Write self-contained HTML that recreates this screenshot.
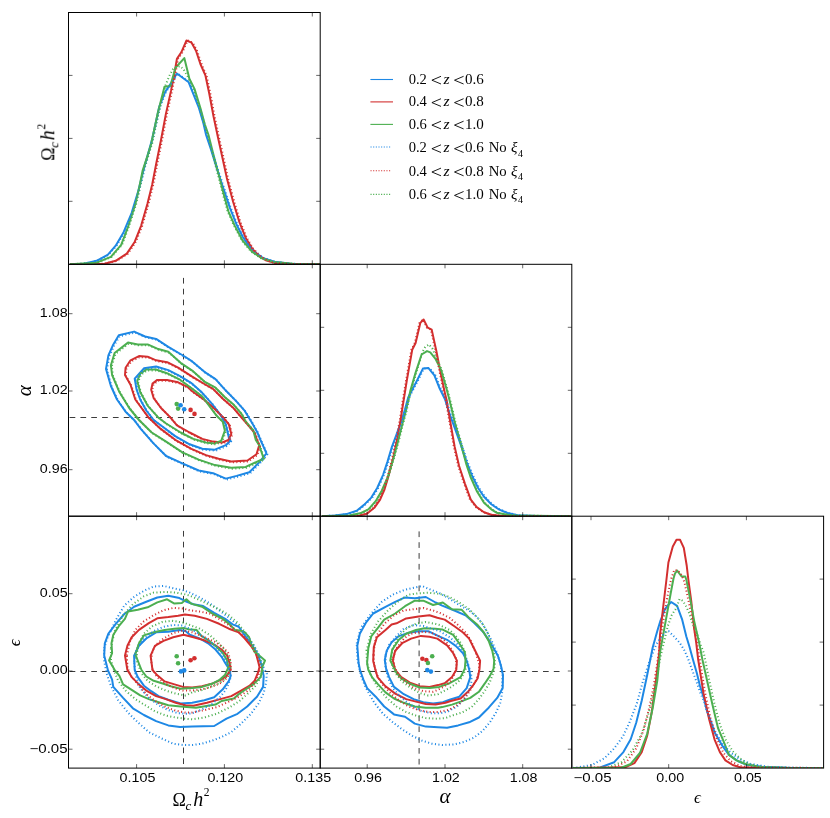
<!DOCTYPE html>
<html><head><meta charset="utf-8"><title>Corner plot</title>
<style>html,body{margin:0;padding:0;background:#fff;}svg{display:block;}</style></head>
<body>
<svg width="830" height="818" viewBox="0 0 830 818">
<rect width="830" height="818" fill="#fff"/>
<defs>
<clipPath id="c00"><rect x="68.5" y="12.5" width="251.7" height="251.8"/></clipPath>
<clipPath id="c01"><rect x="68.5" y="264.3" width="251.7" height="251.9"/></clipPath>
<clipPath id="c02"><rect x="68.5" y="516.2" width="251.7" height="251.9"/></clipPath>
<clipPath id="c10"><rect x="320.2" y="12.5" width="251.6" height="251.8"/></clipPath>
<clipPath id="c11"><rect x="320.2" y="264.3" width="251.6" height="251.9"/></clipPath>
<clipPath id="c12"><rect x="320.2" y="516.2" width="251.6" height="251.9"/></clipPath>
<clipPath id="c20"><rect x="571.8" y="12.5" width="251.8" height="251.8"/></clipPath>
<clipPath id="c21"><rect x="571.8" y="264.3" width="251.8" height="251.9"/></clipPath>
<clipPath id="c22"><rect x="571.8" y="516.2" width="251.8" height="251.9"/></clipPath>
</defs>
<g clip-path="url(#c00)">
<path d="M70.0 264.2 L83.9 263.7 L96.6 260.8 L107.7 254.8 L115.7 245.7 L123.6 232.2 L131.6 213.1 L137.9 192.4 L144.3 167.0 L150.6 144.8 L152.4 138.0 L159.3 106.5 L165.2 91.9 L171.1 83.1 L176.9 73.5 L188.7 82.3 L193.1 93.3 L198.9 108.0 L203.3 122.7 L206.1 135.0 L210.9 149.3 L217.3 170.0 L223.6 189.0 L230.0 208.1 L236.3 224.0 L242.7 236.7 L249.0 246.3 L255.4 252.6 L263.3 258.2 L274.5 261.8 L290.4 263.7 L306.0 264.2 L320.0 264.3" stroke="#1E88E5" fill="none" stroke-width="2" stroke-linejoin="round" stroke-linecap="butt"/>
<path d="M70.0 264.3 L104.6 263.7 L115.7 260.8 L126.8 253.6 L134.8 241.7 L141.1 225.8 L147.5 203.6 L152.2 184.5 L156.2 163.8 L161.0 140.0 L165.9 113.9 L171.1 90.4 L174.0 75.7 L176.9 58.9 L181.3 52.3 L186.5 40.5 L191.6 42.7 L196.0 50.8 L200.4 64.0 L205.5 75.7 L209.2 93.3 L213.6 116.8 L218.0 137.5 L222.0 155.7 L226.8 177.9 L233.1 201.8 L239.5 222.4 L245.9 238.3 L252.2 248.6 L258.6 255.8 L266.5 260.6 L274.5 262.9 L290.4 264.0 L320.0 264.3" stroke="#D32F2F" fill="none" stroke-width="2" stroke-linejoin="round" stroke-linecap="butt"/>
<path d="M70.0 264.3 L96.6 262.7 L110.9 256.8 L121.2 244.9 L128.4 225.8 L135.5 203.6 L139.5 186.1 L142.7 170.2 L147.5 155.9 L151.4 143.2 L152.2 139.0 L157.9 112.4 L164.5 86.7 L170.3 86.0 L175.5 67.7 L184.3 58.1 L189.4 78.7 L194.5 88.9 L200.4 108.0 L204.8 124.2 L208.5 135.0 L212.5 150.9 L218.8 174.7 L223.6 193.8 L228.4 211.3 L234.7 225.6 L242.7 240.7 L252.2 251.8 L261.8 258.2 L274.5 262.1 L295.0 264.0 L320.0 264.3" stroke="#4CAF50" fill="none" stroke-width="2" stroke-linejoin="round" stroke-linecap="butt"/>
<path d="M70.0 264.2 L83.9 263.7 L97.4 260.8 L108.5 254.8 L116.5 245.7 L124.4 232.2 L132.4 213.1 L138.7 192.4 L145.1 167.0 L151.4 144.8 L153.2 138.0 L160.1 106.5 L166.0 91.9 L171.9 83.1 L177.7 73.5 L189.5 82.3 L193.9 93.3 L199.7 108.0 L204.1 122.7 L206.9 135.0 L211.7 149.3 L218.1 170.0 L224.4 189.0 L230.8 208.1 L237.1 224.0 L243.5 236.7 L249.8 246.3 L256.2 252.6 L264.1 258.2 L275.3 261.8 L290.4 263.7 L306.0 264.2 L320.0 264.3" stroke="#1E88E5" fill="none" stroke-width="2" stroke-dasharray="1.05 2.45" stroke-linejoin="round"/>
<path d="M70.0 264.3 L104.6 263.7 L116.8 260.8 L127.9 253.6 L135.9 241.7 L142.2 225.8 L148.6 203.6 L153.3 184.5 L157.3 163.8 L162.1 140.0 L167.0 113.9 L172.2 90.4 L175.1 75.7 L178.0 58.9 L182.4 52.3 L187.6 40.5 L192.7 42.7 L197.1 50.8 L201.5 64.0 L206.6 75.7 L210.3 93.3 L214.7 116.8 L219.1 137.5 L223.1 155.7 L227.9 177.9 L234.2 201.8 L240.6 222.4 L247.0 238.3 L253.3 248.6 L259.7 255.8 L267.6 260.6 L274.5 262.9 L290.4 264.0 L320.0 264.3" stroke="#D32F2F" fill="none" stroke-width="2" stroke-dasharray="1.05 2.45" stroke-linejoin="round"/>
<path d="M70.0 264.3 L97.4 262.7 L111.7 256.8 L122.0 244.9 L129.2 225.8 L136.3 203.6 L140.3 186.1 L143.5 170.2 L148.3 155.9 L152.2 143.2 L153.0 139.0 L158.7 112.4 L165.3 86.0 L169.3 76.0 L173.3 68.4 L179.9 66.1 L183.5 69.1 L189.0 79.0 L193.7 88.9 L199.6 108.0 L204.0 124.2 L207.7 135.0 L211.7 150.9 L218.0 174.7 L222.8 193.8 L227.6 211.3 L233.9 225.6 L241.9 240.7 L251.4 251.8 L261.0 258.2 L273.7 262.1 L295.0 264.0 L320.0 264.3" stroke="#4CAF50" fill="none" stroke-width="2" stroke-dasharray="1.05 2.45" stroke-linejoin="round"/>
</g>
<g clip-path="url(#c11)">
<path d="M322.0 516.2 L334.7 515.6 L346.4 514.1 L356.7 510.8 L364.0 504.9 L371.3 497.6 L377.2 488.0 L383.1 474.8 L387.5 461.6 L391.9 446.9 L396.3 435.2 L402.1 419.1 L404.8 410.0 L408.2 397.5 L416.9 380.7 L422.9 368.6 L428.3 367.9 L434.4 375.3 L439.8 388.8 L445.1 399.5 L448.8 411.7 L454.7 427.9 L460.5 444.0 L466.4 461.6 L472.3 476.3 L478.1 488.0 L484.0 496.8 L491.3 504.2 L498.7 509.3 L507.5 513.0 L517.7 515.2 L535.4 515.9 L571.0 516.2" stroke="#1E88E5" fill="none" stroke-width="2" stroke-linejoin="round" stroke-linecap="butt"/>
<path d="M322.0 516.2 L358.1 515.9 L366.9 513.7 L374.3 507.8 L380.1 499.7 L384.5 489.5 L388.9 474.8 L393.3 457.2 L397.7 436.7 L400.7 419.1 L402.1 410.0 L406.8 380.7 L412.2 349.8 L415.6 343.0 L420.3 322.9 L423.6 319.5 L427.7 327.6 L431.7 329.6 L436.4 351.1 L441.1 375.3 L445.1 394.1 L446.6 400.0 L450.3 422.0 L454.7 446.9 L459.1 466.0 L464.9 483.6 L470.8 499.7 L476.7 507.1 L484.0 512.2 L491.3 514.7 L501.6 515.9 L571.0 516.2" stroke="#D32F2F" fill="none" stroke-width="2" stroke-linejoin="round" stroke-linecap="butt"/>
<path d="M322.0 516.2 L349.3 515.6 L361.1 513.0 L368.4 509.3 L375.7 501.2 L381.6 490.9 L387.5 477.7 L393.3 458.7 L397.7 442.5 L402.1 424.9 L406.1 410.0 L410.2 391.4 L415.6 372.6 L421.6 354.5 L427.0 351.1 L430.3 352.4 L435.7 359.2 L441.1 369.9 L446.5 388.8 L449.5 400.0 L454.7 422.0 L460.5 442.5 L466.4 464.5 L470.8 477.7 L476.7 490.9 L484.0 502.7 L491.3 509.3 L496.5 512.7 L506.0 514.4 L516.3 515.6 L571.0 516.2" stroke="#4CAF50" fill="none" stroke-width="2" stroke-linejoin="round" stroke-linecap="butt"/>
<path d="M322.0 516.2 L334.7 515.6 L347.4 514.1 L357.7 510.8 L365.0 504.9 L372.3 497.6 L378.2 488.0 L384.1 474.8 L388.5 461.6 L392.9 446.9 L397.3 435.2 L403.1 419.1 L405.8 410.0 L409.2 397.5 L417.9 380.7 L423.9 368.6 L429.3 367.9 L435.4 375.3 L440.8 388.8 L446.1 399.5 L449.8 411.7 L455.7 427.9 L461.5 444.0 L467.4 461.6 L473.3 476.3 L479.1 488.0 L485.0 496.8 L492.3 504.2 L499.7 509.3 L508.5 513.0 L517.7 515.2 L535.4 515.9 L571.0 516.2" stroke="#1E88E5" fill="none" stroke-width="2" stroke-dasharray="1.05 2.45" stroke-linejoin="round"/>
<path d="M322.0 516.2 L358.1 515.9 L366.1 513.7 L373.5 507.8 L379.3 499.7 L383.7 489.5 L388.1 474.8 L392.5 457.2 L396.9 436.7 L399.9 419.1 L401.3 410.0 L406.0 380.7 L411.4 349.8 L414.8 343.0 L419.5 322.9 L422.8 319.5 L426.9 327.6 L430.9 329.6 L435.6 351.1 L440.3 375.3 L444.3 394.1 L445.8 400.0 L449.5 422.0 L453.9 446.9 L458.3 466.0 L464.1 483.6 L470.0 499.7 L475.9 507.1 L483.2 512.2 L491.3 514.7 L501.6 515.9 L571.0 516.2" stroke="#D32F2F" fill="none" stroke-width="2" stroke-dasharray="1.05 2.45" stroke-linejoin="round"/>
<path d="M322.0 516.2 L349.3 515.6 L361.8 513.0 L369.1 509.3 L376.4 501.2 L382.3 490.9 L388.2 477.7 L394.0 458.7 L398.4 442.5 L402.8 424.9 L406.8 410.0 L410.9 391.4 L416.3 372.6 L420.2 360.0 L422.2 352.5 L425.2 347.0 L429.0 344.4 L432.7 349.0 L436.7 359.0 L440.2 366.0 L441.8 369.9 L447.2 388.8 L450.2 400.0 L455.4 422.0 L461.2 442.5 L467.1 464.5 L471.5 477.7 L477.4 490.9 L484.7 502.7 L492.0 509.3 L497.2 512.7 L506.7 514.4 L516.3 515.6 L571.0 516.2" stroke="#4CAF50" fill="none" stroke-width="2" stroke-dasharray="1.05 2.45" stroke-linejoin="round"/>
</g>
<g clip-path="url(#c22)">
<path d="M573.0 768.0 L599.5 767.7 L614.2 762.2 L623.4 752.1 L630.7 739.3 L636.2 722.8 L641.7 700.7 L647.2 675.0 L652.7 647.5 L657.3 631.0 L660.5 620.5 L664.9 609.3 L668.0 605.2 L671.2 602.0 L677.1 605.9 L682.0 619.1 L686.4 636.7 L689.4 646.5 L692.8 659.0 L696.8 673.0 L700.0 686.0 L704.1 699.0 L707.0 711.0 L712.0 724.5 L714.4 731.9 L721.7 744.8 L729.0 754.9 L738.2 761.3 L747.4 765.0 L762.1 766.8 L790.0 768.0 L823.0 768.1" stroke="#1E88E5" fill="none" stroke-width="2" stroke-linejoin="round" stroke-linecap="butt"/>
<path d="M573.0 768.1 L625.2 767.3 L634.4 763.1 L641.7 752.1 L647.2 735.6 L651.8 711.7 L655.5 684.2 L659.2 653.0 L660.0 634.8 L662.9 609.3 L666.4 580.0 L668.4 562.5 L672.8 546.4 L676.5 539.8 L680.1 539.8 L683.8 547.9 L686.7 565.5 L688.4 580.0 L691.3 601.5 L694.2 628.9 L696.2 642.6 L698.1 659.0 L703.5 693.4 L709.2 719.5 L714.5 739.3 L719.9 752.1 L725.4 760.4 L732.7 765.0 L740.0 767.2 L760.0 768.0 L823.0 768.1" stroke="#D32F2F" fill="none" stroke-width="2" stroke-linejoin="round" stroke-linecap="butt"/>
<path d="M573.0 768.1 L621.5 767.7 L630.7 764.0 L639.9 753.0 L647.2 733.8 L652.7 708.1 L657.3 680.6 L660.0 652.4 L663.9 630.9 L667.8 609.3 L670.8 592.7 L673.5 578.5 L675.0 573.5 L677.2 570.6 L681.6 576.5 L685.3 576.5 L686.4 580.0 L690.3 599.6 L694.2 621.1 L699.1 642.6 L702.5 660.0 L706.5 678.0 L712.3 704.0 L718.0 728.0 L723.5 741.1 L729.0 754.9 L736.4 760.4 L745.6 764.0 L758.4 766.8 L790.0 768.0 L823.0 768.1" stroke="#4CAF50" fill="none" stroke-width="2" stroke-linejoin="round" stroke-linecap="butt"/>
<path d="M573.0 767.9 L575.7 767.7 L592.0 765.0 L604.7 758.0 L614.2 748.4 L623.0 736.3 L629.5 722.5 L636.9 703.3 L642.6 682.4 L649.1 662.2 L656.4 644.0 L660.0 638.7 L665.9 631.8 L668.8 631.3 L673.7 636.2 L679.6 642.6 L684.4 650.4 L687.9 658.2 L692.3 670.4 L697.0 683.0 L700.0 692.0 L704.1 702.0 L707.0 711.5 L714.4 730.1 L721.7 742.9 L730.9 753.0 L740.0 759.4 L751.1 764.0 L767.6 766.8 L795.0 767.7 L823.0 768.1" stroke="#1E88E5" fill="none" stroke-width="2" stroke-dasharray="1.05 2.45" stroke-linejoin="round"/>
<path d="M573.0 768.1 L614.2 767.3 L627.0 761.3 L636.2 748.4 L643.6 730.1 L649.1 708.1 L653.7 686.1 L658.2 656.7 L660.5 638.7 L663.9 617.2 L666.8 599.6 L669.8 584.9 L671.5 578.0 L674.3 569.9 L677.9 570.6 L681.6 575.0 L684.4 582.0 L687.4 595.6 L690.3 609.3 L693.3 624.0 L696.2 638.7 L699.1 655.3 L705.2 693.4 L710.7 719.1 L717.1 739.3 L723.5 753.0 L730.9 761.3 L740.0 765.9 L749.2 767.3 L823.0 768.1" stroke="#D32F2F" fill="none" stroke-width="2" stroke-dasharray="1.05 2.45" stroke-linejoin="round"/>
<path d="M573.0 768.1 L608.7 767.3 L621.5 762.2 L632.6 750.3 L641.7 733.8 L649.1 711.7 L654.6 687.9 L658.5 668.0 L661.0 654.3 L663.9 642.6 L667.8 626.0 L671.7 615.2 L676.1 608.4 L679.6 599.1 L683.0 601.0 L686.4 606.9 L689.3 613.3 L691.3 620.1 L693.7 626.0 L696.8 633.0 L700.8 645.0 L703.8 653.0 L708.9 678.6 L714.4 703.4 L719.9 724.6 L725.4 739.3 L732.7 751.2 L740.0 758.5 L749.2 764.0 L762.1 766.8 L790.0 768.0 L823.0 768.1" stroke="#4CAF50" fill="none" stroke-width="2" stroke-dasharray="1.05 2.45" stroke-linejoin="round"/>
</g>
<g clip-path="url(#c01)">
<path d="M69.6 417.5 H320.0" stroke="#3c3c3c" stroke-width="1" stroke-dasharray="5.7 5.13" fill="none"/>
<path d="M183.5 277.9 V516.0" stroke="#3c3c3c" stroke-width="1" stroke-dasharray="5.7 5.13" fill="none"/>
<path d="M134.1 420.0 L125.6 411.7 L117.0 399.5 L110.9 386.0 L106.0 368.9 L108.4 355.5 L113.3 344.4 L118.8 335.3 L134.1 331.6 L145.1 336.5 L156.1 338.9 L168.3 346.9 L183.0 355.5 L192.2 361.4 L204.4 371.8 L215.5 379.1 L226.5 391.3 L236.2 401.1 L244.8 410.9 L252.1 423.1 L257.0 431.7 L260.5 440.0 L266.5 453.3 L258.3 463.3 L249.3 472.3 L236.6 475.9 L225.8 478.6 L213.1 473.2 L198.7 470.5 L182.4 463.3 L166.1 456.0 L153.5 443.4 L140.8 428.9 Z" stroke="#1E88E5" fill="none" stroke-width="2" stroke-linejoin="round" stroke-linecap="butt"/>
<path d="M153.7 420.0 L146.3 410.5 L140.2 399.5 L136.6 389.7 L134.7 378.7 L143.9 368.3 L156.1 366.5 L168.3 370.1 L180.0 376.1 L191.0 382.8 L202.0 392.6 L211.8 403.6 L220.3 414.6 L225.8 424.4 L228.9 437.8 L230.3 440.7 L225.8 445.2 L214.9 449.7 L202.3 448.8 L189.6 444.3 L175.2 436.1 L160.7 425.3 Z" stroke="#1E88E5" fill="none" stroke-width="2" stroke-linejoin="round" stroke-linecap="butt"/>
<path d="M148.8 417.8 L135.3 399.5 L130.5 384.8 L125.0 375.0 L125.6 367.7 L130.5 360.3 L139.0 356.1 L147.6 356.7 L156.1 360.3 L167.1 362.2 L178.1 367.7 L192.2 376.7 L204.4 384.0 L213.0 388.9 L222.8 398.7 L232.6 407.2 L241.1 417.0 L248.5 425.6 L254.6 432.9 L257.0 440.0 L259.2 445.2 L256.5 454.2 L247.5 460.5 L231.2 461.5 L218.6 458.7 L205.9 455.1 L191.4 448.8 L175.2 439.8 L160.7 428.9 Z" stroke="#D32F2F" fill="none" stroke-width="2" stroke-linejoin="round" stroke-linecap="butt"/>
<path d="M169.6 416.6 L161.0 408.0 L153.7 398.2 L151.2 389.7 L152.5 383.6 L157.3 379.9 L167.1 379.9 L178.1 382.3 L187.9 387.2 L192.2 391.3 L204.4 399.9 L214.2 408.5 L222.8 417.0 L228.9 424.4 L231.3 434.1 L228.5 439.8 L222.2 442.5 L213.1 441.6 L202.3 438.9 L189.6 432.5 L177.0 425.3 Z" stroke="#D32F2F" fill="none" stroke-width="2" stroke-linejoin="round" stroke-linecap="butt"/>
<path d="M139.0 420.0 L129.2 408.0 L119.4 392.1 L112.1 375.0 L110.9 365.2 L114.6 353.0 L128.0 342.6 L137.8 344.4 L147.6 344.4 L157.3 348.7 L168.3 351.8 L180.6 362.8 L192.2 370.6 L204.4 381.6 L215.5 387.7 L225.2 397.5 L233.8 404.8 L241.1 413.3 L246.0 421.9 L253.3 430.5 L255.8 440.0 L259.2 445.2 L263.7 458.7 L245.7 466.9 L231.2 467.8 L214.9 465.1 L198.7 459.6 L182.4 452.4 L166.1 441.6 L151.7 432.5 Z" stroke="#4CAF50" fill="none" stroke-width="2" stroke-linejoin="round" stroke-linecap="butt"/>
<path d="M158.6 417.8 L147.6 405.6 L140.2 392.1 L137.2 381.1 L140.2 373.8 L146.3 369.5 L156.1 369.5 L168.3 373.8 L180.0 379.7 L191.0 387.7 L202.0 396.2 L209.3 406.0 L216.7 415.8 L222.8 421.9 L224.9 430.7 L221.3 440.7 L214.9 443.4 L205.9 442.5 L193.3 438.9 L180.6 432.5 L166.1 423.5 Z" stroke="#4CAF50" fill="none" stroke-width="2" stroke-linejoin="round" stroke-linecap="butt"/>
<path d="M135.0 420.9 L126.5 412.6 L117.9 400.4 L111.8 386.9 L106.9 369.8 L109.3 356.4 L114.2 345.3 L119.7 336.2 L135.0 332.5 L146.0 337.4 L157.0 339.8 L169.2 347.8 L183.9 356.4 L193.1 362.3 L205.3 372.7 L216.4 380.0 L227.4 392.2 L237.1 402.0 L245.7 411.8 L253.0 424.0 L257.9 432.6 L261.4 440.9 L267.4 454.2 L259.2 464.2 L250.2 473.2 L237.5 476.8 L226.7 479.5 L214.0 474.1 L199.6 471.4 L183.3 464.2 L167.0 456.9 L154.4 444.3 L141.7 429.8 Z" stroke="#1E88E5" fill="none" stroke-width="2" stroke-dasharray="1.05 2.45" stroke-linejoin="round"/>
<path d="M154.6 420.9 L147.2 411.4 L141.1 400.4 L137.5 390.6 L135.6 379.6 L144.8 369.2 L157.0 367.4 L169.2 371.0 L180.9 377.0 L191.9 383.7 L202.9 393.5 L212.7 404.5 L221.2 415.5 L226.7 425.3 L229.8 438.7 L231.2 441.6 L226.7 446.1 L215.8 450.6 L203.2 449.7 L190.5 445.2 L176.1 437.0 L161.6 426.2 Z" stroke="#1E88E5" fill="none" stroke-width="2" stroke-dasharray="1.05 2.45" stroke-linejoin="round"/>
<path d="M149.7 418.7 L136.2 400.4 L131.4 385.7 L125.9 375.9 L126.5 368.6 L131.4 361.2 L139.9 357.0 L148.5 357.6 L157.0 361.2 L168.0 363.1 L179.0 368.6 L193.1 377.6 L205.3 384.9 L213.9 389.8 L223.7 399.6 L233.5 408.1 L242.0 417.9 L249.4 426.5 L255.5 433.8 L257.9 440.9 L260.1 446.1 L257.4 455.1 L248.4 461.4 L232.1 462.4 L219.5 459.6 L206.8 456.0 L192.3 449.7 L176.1 440.7 L161.6 429.8 Z" stroke="#D32F2F" fill="none" stroke-width="2" stroke-dasharray="1.05 2.45" stroke-linejoin="round"/>
<path d="M170.5 417.5 L161.9 408.9 L154.6 399.1 L152.1 390.6 L153.4 384.5 L158.2 380.8 L168.0 380.8 L179.0 383.2 L188.8 388.1 L193.1 392.2 L205.3 400.8 L215.1 409.4 L223.7 417.9 L229.8 425.3 L232.2 435.0 L229.4 440.7 L223.1 443.4 L214.0 442.5 L203.2 439.8 L190.5 433.4 L177.9 426.2 Z" stroke="#D32F2F" fill="none" stroke-width="2" stroke-dasharray="1.05 2.45" stroke-linejoin="round"/>
<path d="M139.9 420.9 L130.1 408.9 L120.3 393.0 L113.0 375.9 L111.8 366.1 L115.5 353.9 L128.9 343.5 L138.7 345.3 L148.5 345.3 L158.2 349.6 L169.2 352.7 L181.5 363.7 L193.1 371.5 L205.3 382.5 L216.4 388.6 L226.1 398.4 L234.7 405.7 L242.0 414.2 L246.9 422.8 L254.2 431.4 L256.7 440.9 L260.1 446.1 L264.6 459.6 L246.6 467.8 L232.1 468.7 L215.8 466.0 L199.6 460.5 L183.3 453.3 L167.0 442.5 L152.6 433.4 Z" stroke="#4CAF50" fill="none" stroke-width="2" stroke-dasharray="1.05 2.45" stroke-linejoin="round"/>
<path d="M159.5 418.7 L148.5 406.5 L141.1 393.0 L138.1 382.0 L141.1 374.7 L147.2 370.4 L157.0 370.4 L169.2 374.7 L180.9 380.6 L191.9 388.6 L202.9 397.1 L210.2 406.9 L217.6 416.7 L223.7 422.8 L225.8 431.6 L222.2 441.6 L215.8 444.3 L206.8 443.4 L194.2 439.8 L181.5 433.4 L167.0 424.4 Z" stroke="#4CAF50" fill="none" stroke-width="2" stroke-dasharray="1.05 2.45" stroke-linejoin="round"/>
</g>
<g clip-path="url(#c02)">
<path d="M69.6 671.5 H320.0" stroke="#3c3c3c" stroke-width="1" stroke-dasharray="5.7 5.13" fill="none"/>
<path d="M183.5 530.9 V768.0" stroke="#3c3c3c" stroke-width="1" stroke-dasharray="5.7 5.13" fill="none"/>
<path d="M104.2 655.6 L104.8 643.3 L108.4 633.6 L115.8 623.8 L124.3 614.0 L134.1 606.7 L146.3 601.8 L157.3 597.5 L168.3 595.7 L179.4 598.1 L185.5 601.2 L193.4 604.2 L203.2 606.1 L214.2 612.8 L225.2 618.9 L232.6 624.4 L238.7 626.8 L246.0 637.2 L253.3 647.0 L258.2 655.6 L261.3 664.1 L263.7 675.9 L263.1 686.9 L257.0 696.7 L247.2 706.5 L237.5 713.8 L226.5 718.7 L214.2 726.0 L192.2 726.6 L180.0 727.0 L168.3 725.4 L156.1 721.1 L143.9 715.0 L132.9 708.3 L123.1 697.9 L113.3 686.9 L112.1 679.6 L108.0 670.5 Z" stroke="#1E88E5" fill="none" stroke-width="2" stroke-linejoin="round" stroke-linecap="butt"/>
<path d="M134.7 670.0 L134.1 655.6 L139.0 645.8 L146.3 638.5 L156.1 632.3 L168.3 631.7 L179.4 629.9 L185.5 631.1 L189.8 634.8 L199.6 638.5 L208.1 643.3 L215.5 649.5 L221.6 656.8 L225.2 662.9 L229.5 669.8 L230.7 675.9 L228.9 680.8 L222.8 689.3 L214.2 697.3 L204.4 700.3 L192.2 702.8 L180.6 703.4 L168.3 699.7 L158.6 696.1 L151.2 691.2 L143.9 685.7 L137.8 677.1 Z" stroke="#1E88E5" fill="none" stroke-width="2" stroke-linejoin="round" stroke-linecap="butt"/>
<path d="M127.4 670.0 L125.0 655.6 L127.4 645.8 L131.7 637.2 L139.0 629.9 L148.8 623.2 L157.3 618.3 L168.3 617.1 L178.1 615.8 L184.9 614.6 L194.7 615.8 L206.9 618.9 L219.1 623.8 L228.9 628.7 L238.7 632.3 L244.8 638.5 L250.9 645.8 L255.8 653.1 L258.2 661.7 L259.5 667.0 L258.2 672.2 L254.6 680.8 L249.7 685.7 L241.1 690.6 L231.3 696.1 L220.3 699.1 L206.9 702.8 L193.4 705.8 L185.5 705.2 L175.7 702.8 L165.9 699.1 L156.1 696.1 L146.3 690.6 L139.0 684.4 L131.7 677.1 Z" stroke="#D32F2F" fill="none" stroke-width="2" stroke-linejoin="round" stroke-linecap="butt"/>
<path d="M152.5 670.0 L150.6 655.6 L154.9 645.8 L163.5 640.9 L173.2 637.2 L183.6 634.8 L193.4 637.2 L204.4 640.3 L214.2 644.6 L221.6 649.5 L227.1 655.6 L229.5 662.9 L230.7 669.8 L226.5 675.9 L220.3 680.2 L211.8 683.8 L202.0 686.3 L192.2 687.5 L183.0 686.9 L174.5 684.4 L164.7 681.4 L157.3 675.3 Z" stroke="#D32F2F" fill="none" stroke-width="2" stroke-linejoin="round" stroke-linecap="butt"/>
<path d="M109.1 660.5 L112.1 653.1 L111.5 643.3 L113.3 634.8 L118.8 626.2 L124.9 618.9 L128.0 611.6 L137.8 609.7 L147.6 607.3 L157.3 602.4 L167.1 599.3 L174.4 603.6 L181.8 603.0 L186.4 599.3 L191.0 603.6 L202.0 606.7 L213.0 614.0 L222.8 618.9 L228.9 623.8 L235.0 629.9 L239.9 630.5 L244.8 632.3 L249.1 637.2 L250.9 643.3 L254.6 651.9 L260.7 656.8 L265.0 660.5 L261.9 667.8 L261.9 671.0 L260.7 677.1 L253.3 684.4 L244.8 690.0 L238.7 694.2 L233.8 698.5 L221.6 701.0 L215.5 704.6 L195.9 707.7 L180.6 706.4 L168.3 705.2 L158.6 702.2 L148.8 699.1 L140.2 695.4 L131.7 689.9 L123.1 684.4 L119.4 675.9 L114.6 669.8 Z" stroke="#4CAF50" fill="none" stroke-width="2" stroke-linejoin="round" stroke-linecap="butt"/>
<path d="M141.5 670.0 L135.3 654.4 L139.0 643.3 L143.9 635.4 L153.7 632.3 L164.7 629.9 L174.4 628.7 L184.2 628.1 L188.6 629.3 L196.5 629.9 L201.4 636.0 L209.3 640.9 L216.7 647.0 L222.8 653.1 L227.1 660.5 L228.3 667.3 L225.2 674.7 L219.1 680.2 L211.8 683.8 L202.0 686.9 L192.2 688.1 L180.6 688.7 L170.8 686.3 L163.5 683.8 L153.7 680.8 L146.3 676.5 Z" stroke="#4CAF50" fill="none" stroke-width="2" stroke-linejoin="round" stroke-linecap="butt"/>
<path d="M104.2 648.2 L107.2 638.5 L115.8 620.1 L124.3 605.5 L134.1 596.9 L143.9 590.8 L153.7 586.5 L163.5 585.9 L173.2 588.3 L183.0 590.2 L189.8 592.6 L199.6 597.5 L209.3 603.0 L219.1 610.3 L228.9 617.7 L237.5 625.0 L246.0 634.8 L253.3 644.6 L259.5 655.6 L263.1 666.6 L266.8 673.4 L266.2 682.0 L263.7 693.0 L258.2 704.0 L250.9 713.8 L241.1 723.6 L231.3 732.1 L221.6 737.0 L211.8 740.7 L202.0 743.7 L192.2 745.0 L183.0 745.0 L173.2 743.7 L161.0 738.2 L148.8 732.1 L137.8 722.3 L128.0 712.6 L118.2 700.3 L110.9 685.7 L106.6 673.4 L104.0 660.0 Z" stroke="#1E88E5" fill="none" stroke-width="2" stroke-dasharray="1.05 2.45" stroke-linejoin="round"/>
<path d="M134.1 661.7 L136.6 649.5 L143.9 638.5 L153.7 631.1 L163.5 626.8 L173.2 625.0 L183.0 625.6 L192.2 629.9 L204.4 637.2 L214.2 644.6 L221.6 653.1 L227.1 662.9 L230.5 672.0 L230.5 678.0 L228.3 684.4 L225.2 690.6 L220.3 696.7 L211.8 704.0 L202.0 709.5 L192.2 713.2 L187.9 713.8 L178.1 713.2 L168.3 710.1 L158.6 705.2 L148.8 697.9 L140.2 688.1 L135.5 675.0 Z" stroke="#1E88E5" fill="none" stroke-width="2" stroke-dasharray="1.05 2.45" stroke-linejoin="round"/>
<path d="M126.8 655.6 L129.8 642.1 L135.3 629.9 L143.9 621.3 L153.7 615.2 L163.5 610.3 L173.2 607.9 L183.0 608.5 L189.8 610.3 L199.6 611.6 L209.3 613.4 L219.1 618.9 L228.9 625.0 L237.5 631.1 L246.0 638.5 L252.1 647.0 L258.2 658.0 L260.7 667.3 L258.2 675.9 L254.6 683.2 L247.2 691.2 L238.7 696.7 L228.9 701.6 L216.7 707.1 L204.4 710.1 L192.2 712.6 L185.5 712.6 L175.7 710.7 L165.9 707.1 L156.1 701.6 L146.3 694.2 L139.0 685.7 L131.0 676.0 L127.5 668.0 Z" stroke="#D32F2F" fill="none" stroke-width="2" stroke-dasharray="1.05 2.45" stroke-linejoin="round"/>
<path d="M151.0 660.0 L152.5 651.0 L156.1 644.6 L163.5 638.5 L173.2 633.0 L183.0 630.5 L192.2 632.3 L204.4 637.2 L215.5 642.1 L222.8 647.0 L228.3 653.1 L230.7 661.7 L231.0 669.0 L227.7 677.1 L221.6 682.6 L211.8 686.9 L202.0 689.3 L192.2 690.6 L183.0 690.6 L174.5 688.1 L164.7 683.2 L157.0 677.0 L152.5 669.0 Z" stroke="#D32F2F" fill="none" stroke-width="2" stroke-dasharray="1.05 2.45" stroke-linejoin="round"/>
<path d="M110.9 648.2 L114.6 631.1 L123.1 615.2 L132.9 604.2 L143.9 596.3 L153.7 592.6 L164.7 592.0 L175.7 592.6 L185.5 594.4 L189.8 595.7 L199.6 600.0 L209.3 604.8 L219.1 609.1 L228.9 615.2 L237.5 622.6 L246.0 633.6 L253.3 644.6 L259.5 656.8 L263.1 669.8 L259.5 679.6 L254.6 686.9 L247.2 694.2 L238.7 701.6 L228.9 707.7 L216.7 713.8 L204.4 717.5 L192.2 719.3 L185.5 718.7 L175.7 717.5 L165.9 715.6 L154.9 711.3 L145.1 705.2 L135.3 699.1 L125.6 690.6 L118.2 680.8 L114.6 672.2 L111.0 660.0 Z" stroke="#4CAF50" fill="none" stroke-width="2" stroke-dasharray="1.05 2.45" stroke-linejoin="round"/>
<path d="M137.8 645.8 L143.9 633.6 L152.5 626.2 L162.2 622.0 L171.9 620.7 L183.0 622.6 L189.8 625.0 L199.6 628.7 L209.3 634.8 L217.9 642.1 L225.2 650.7 L230.1 660.5 L230.5 668.0 L228.0 675.0 L224.0 679.6 L219.1 683.2 L211.8 686.3 L202.0 690.0 L192.2 692.4 L185.5 695.5 L175.7 693.6 L165.9 690.6 L156.1 686.3 L147.6 680.8 L141.5 673.4 L136.5 660.0 Z" stroke="#4CAF50" fill="none" stroke-width="2" stroke-dasharray="1.05 2.45" stroke-linejoin="round"/>
</g>
<g clip-path="url(#c12)">
<path d="M326.4 671.5 H559.5" stroke="#3c3c3c" stroke-width="1" stroke-dasharray="5.7 5.13" fill="none"/>
<path d="M419.1 531.4 V768.0" stroke="#3c3c3c" stroke-width="1" stroke-dasharray="5.7 5.13" fill="none"/>
<path d="M358.6 663.0 L357.3 645.9 L359.8 633.7 L365.9 622.7 L373.2 613.5 L385.5 606.8 L395.2 601.9 L404.4 597.6 L414.8 598.2 L425.8 597.0 L435.6 602.5 L442.2 605.6 L454.4 610.5 L465.5 615.3 L474.0 622.7 L482.6 631.2 L488.7 639.8 L493.6 648.3 L497.9 655.7 L500.9 665.5 L503.0 675.0 L502.7 688.1 L497.2 697.9 L488.7 707.7 L478.9 717.5 L469.1 722.3 L458.1 725.4 L447.1 727.8 L438.0 727.2 L425.8 726.6 L414.8 723.6 L405.0 716.8 L394.0 714.4 L384.2 706.5 L375.7 696.7 L367.1 688.1 L363.4 679.6 L360.0 670.0 Z" stroke="#1E88E5" fill="none" stroke-width="2" stroke-linejoin="round" stroke-linecap="butt"/>
<path d="M384.8 660.0 L386.7 650.8 L391.6 642.2 L398.9 636.1 L407.5 633.1 L418.5 631.2 L428.2 631.2 L438.6 636.1 L447.1 639.8 L455.7 645.9 L463.0 653.2 L466.7 660.6 L469.1 669.1 L470.3 677.1 L466.7 688.1 L459.3 696.7 L449.6 699.7 L442.9 702.2 L433.1 703.4 L423.3 702.2 L413.6 699.1 L403.8 694.2 L394.0 686.9 L389.1 677.1 L386.1 668.6 Z" stroke="#1E88E5" fill="none" stroke-width="2" stroke-linejoin="round" stroke-linecap="butt"/>
<path d="M373.2 661.0 L373.8 647.1 L376.9 637.3 L385.5 630.0 L391.6 624.5 L396.5 623.3 L406.2 618.4 L418.5 616.6 L429.5 615.3 L437.3 617.8 L444.7 619.6 L454.4 626.3 L463.0 632.5 L469.1 638.6 L475.2 650.8 L480.1 660.6 L479.5 669.1 L477.7 678.3 L472.8 685.7 L467.9 691.8 L460.6 698.5 L450.8 701.0 L445.4 702.8 L435.6 704.6 L425.8 704.0 L416.0 701.6 L406.2 699.1 L395.2 693.6 L385.5 686.3 L377.5 677.1 L375.1 668.6 Z" stroke="#D32F2F" fill="none" stroke-width="2" stroke-linejoin="round" stroke-linecap="butt"/>
<path d="M392.8 660.6 L395.2 650.8 L402.6 642.8 L411.1 638.6 L420.9 635.9 L429.5 636.7 L437.3 638.6 L447.1 645.3 L453.2 653.2 L456.9 660.6 L456.3 669.8 L452.0 677.1 L444.7 683.2 L438.0 685.1 L429.5 686.9 L419.7 686.3 L409.9 682.6 L401.3 677.1 L395.2 669.8 Z" stroke="#D32F2F" fill="none" stroke-width="2" stroke-linejoin="round" stroke-linecap="butt"/>
<path d="M367.1 663.0 L368.3 648.3 L371.4 636.1 L378.1 627.6 L384.2 619.6 L395.2 613.5 L405.0 606.2 L414.8 600.7 L423.3 600.7 L433.1 605.0 L442.8 602.5 L452.0 609.2 L461.8 609.8 L469.1 617.8 L477.7 625.1 L483.8 632.5 L488.7 641.0 L492.3 650.8 L494.2 660.6 L493.6 668.6 L489.9 675.9 L485.0 683.2 L478.9 691.8 L470.3 697.9 L460.6 701.6 L452.0 704.6 L442.2 707.1 L438.0 707.7 L425.8 707.7 L414.8 706.5 L403.8 702.8 L394.0 698.5 L385.5 692.4 L378.1 684.4 L372.0 677.1 L368.3 669.8 Z" stroke="#4CAF50" fill="none" stroke-width="2" stroke-linejoin="round" stroke-linecap="butt"/>
<path d="M396.5 672.8 L390.3 660.6 L392.2 649.6 L398.9 639.8 L406.2 633.7 L416.0 630.0 L424.6 628.2 L435.6 628.8 L442.2 629.4 L453.2 634.9 L459.3 643.5 L464.8 652.0 L465.5 660.6 L464.8 668.6 L460.6 677.1 L449.6 683.2 L439.2 686.9 L429.5 688.1 L419.7 687.5 L409.9 683.8 L401.3 678.3 Z" stroke="#4CAF50" fill="none" stroke-width="2" stroke-linejoin="round" stroke-linecap="butt"/>
<path d="M356.7 643.5 L361.0 627.6 L370.8 614.1 L381.8 601.9 L392.8 594.6 L405.0 589.7 L416.0 587.2 L422.1 586.0 L430.7 589.7 L439.8 593.3 L449.6 598.8 L459.3 605.0 L469.1 610.5 L476.5 616.6 L482.6 623.9 L487.5 632.5 L492.3 642.2 L496.6 652.0 L500.0 662.0 L502.5 675.0 L502.1 693.0 L500.3 702.8 L496.0 712.6 L489.9 722.3 L482.6 730.9 L474.0 737.6 L464.2 741.9 L454.4 744.4 L442.2 745.0 L431.9 743.7 L422.1 740.7 L412.3 735.8 L402.6 729.7 L392.8 722.3 L383.0 713.8 L374.4 702.8 L365.9 688.1 L361.0 675.9 L357.5 660.0 Z" stroke="#1E88E5" fill="none" stroke-width="2" stroke-dasharray="1.05 2.45" stroke-linejoin="round"/>
<path d="M385.5 655.0 L389.0 645.0 L396.5 636.1 L403.8 628.8 L413.6 625.1 L423.3 626.0 L430.0 628.2 L439.8 631.2 L449.6 637.3 L458.1 644.7 L465.5 655.7 L468.5 665.5 L471.0 673.0 L471.6 680.8 L469.1 690.6 L464.2 699.1 L456.9 706.5 L448.3 711.3 L440.5 713.2 L430.7 713.2 L420.9 710.7 L411.1 705.2 L401.3 697.9 L392.8 688.1 L388.0 678.0 L385.5 667.0 Z" stroke="#1E88E5" fill="none" stroke-width="2" stroke-dasharray="1.05 2.45" stroke-linejoin="round"/>
<path d="M373.5 655.0 L374.5 645.0 L376.3 636.1 L384.2 623.9 L394.0 615.3 L403.8 610.5 L413.6 609.2 L423.3 608.0 L433.1 610.5 L439.8 612.9 L449.6 617.8 L458.1 625.1 L466.7 633.7 L471.6 642.2 L475.8 653.2 L479.0 663.0 L479.0 672.0 L475.8 680.8 L471.6 688.1 L466.7 695.5 L459.3 704.0 L449.6 709.5 L447.8 710.1 L438.0 712.0 L428.2 712.0 L418.5 710.1 L408.7 706.5 L398.9 700.3 L390.3 693.0 L382.0 684.0 L376.5 674.0 L374.0 664.0 Z" stroke="#D32F2F" fill="none" stroke-width="2" stroke-dasharray="1.05 2.45" stroke-linejoin="round"/>
<path d="M393.0 658.0 L396.0 649.0 L403.8 638.6 L411.1 633.7 L420.9 631.8 L430.7 632.5 L438.6 636.1 L445.9 641.6 L452.0 649.6 L455.7 658.1 L456.5 666.0 L454.5 674.0 L450.8 680.8 L444.7 686.3 L437.3 690.0 L433.1 691.8 L423.3 691.2 L414.0 688.0 L406.0 682.5 L399.0 676.0 L394.5 667.0 Z" stroke="#D32F2F" fill="none" stroke-width="2" stroke-dasharray="1.05 2.45" stroke-linejoin="round"/>
<path d="M366.5 650.8 L370.8 633.7 L378.1 621.5 L387.9 610.5 L398.9 600.7 L408.7 594.6 L418.5 593.3 L428.2 592.7 L439.8 593.9 L449.6 597.0 L459.3 602.5 L469.1 609.2 L476.5 616.6 L482.6 623.9 L487.5 632.5 L491.5 643.0 L494.5 655.0 L495.0 665.0 L493.0 673.4 L489.9 682.0 L485.0 690.6 L478.9 699.1 L471.6 707.1 L461.8 712.6 L452.0 715.6 L445.4 718.1 L435.6 718.7 L425.8 718.1 L416.0 715.6 L406.2 712.0 L396.5 706.5 L386.7 697.9 L378.1 688.1 L371.0 676.0 L367.0 663.0 Z" stroke="#4CAF50" fill="none" stroke-width="2" stroke-dasharray="1.05 2.45" stroke-linejoin="round"/>
<path d="M391.0 660.0 L392.8 648.3 L398.9 636.1 L407.5 627.6 L417.2 623.3 L425.8 622.1 L435.6 623.9 L439.8 625.1 L449.6 630.0 L456.9 637.3 L461.8 644.7 L464.8 652.0 L466.5 661.0 L465.5 670.0 L462.0 677.0 L458.1 682.0 L449.6 688.1 L439.8 693.0 L438.0 694.2 L428.2 695.5 L419.7 693.0 L411.1 688.1 L402.6 682.0 L396.0 674.0 L392.5 667.0 Z" stroke="#4CAF50" fill="none" stroke-width="2" stroke-dasharray="1.05 2.45" stroke-linejoin="round"/>
</g>
<circle cx="176.7" cy="404.1" r="2.3" fill="#4CAF50"/>
<circle cx="178.1" cy="408.6" r="2.3" fill="#4CAF50"/>
<circle cx="180.6" cy="405.2" r="2.3" fill="#1E88E5"/>
<circle cx="184.2" cy="409.2" r="2.3" fill="#1E88E5"/>
<circle cx="190.6" cy="409.9" r="2.3" fill="#D32F2F"/>
<circle cx="194.5" cy="413.9" r="2.3" fill="#D32F2F"/>
<circle cx="176.7" cy="656.2" r="2.3" fill="#4CAF50"/>
<circle cx="178.1" cy="663.2" r="2.3" fill="#4CAF50"/>
<circle cx="190.6" cy="660.2" r="2.3" fill="#D32F2F"/>
<circle cx="194.4" cy="658.2" r="2.3" fill="#D32F2F"/>
<circle cx="181.0" cy="671.4" r="2.3" fill="#1E88E5"/>
<circle cx="184.2" cy="670.4" r="2.3" fill="#1E88E5"/>
<circle cx="422.4" cy="658.7" r="2.3" fill="#D32F2F"/>
<circle cx="426.4" cy="660.0" r="2.3" fill="#D32F2F"/>
<circle cx="432.2" cy="656.3" r="2.3" fill="#4CAF50"/>
<circle cx="427.9" cy="663.0" r="2.3" fill="#4CAF50"/>
<circle cx="427.3" cy="670.1" r="2.3" fill="#1E88E5"/>
<circle cx="430.9" cy="671.6" r="2.3" fill="#1E88E5"/>
<path d="M136.6 264.3 v-4 M136.6 12.5 v4 M224.4 264.3 v-4 M224.4 12.5 v4 M312.3 264.3 v-4 M312.3 12.5 v4 M68.5 75.4 h4 M320.2 75.4 h-4 M68.5 138.4 h4 M320.2 138.4 h-4 M68.5 201.3 h4 M320.2 201.3 h-4 M136.6 516.2 v-4 M136.6 264.3 v4 M224.4 516.2 v-4 M224.4 264.3 v4 M312.3 516.2 v-4 M312.3 264.3 v4 M68.5 313.7 h4 M320.2 313.7 h-4 M68.5 391.0 h4 M320.2 391.0 h-4 M68.5 469.7 h4 M320.2 469.7 h-4 M367.2 516.2 v-4 M367.2 264.3 v4 M445.0 516.2 v-4 M445.0 264.3 v4 M522.7 516.2 v-4 M522.7 264.3 v4 M320.2 327.3 h4 M571.8 327.3 h-4 M320.2 390.3 h4 M571.8 390.3 h-4 M320.2 453.3 h4 M571.8 453.3 h-4 M136.6 768.1 v-4 M136.6 516.2 v4 M224.4 768.1 v-4 M224.4 516.2 v4 M312.3 768.1 v-4 M312.3 516.2 v4 M68.5 593.7 h4 M320.2 593.7 h-4 M68.5 671.0 h4 M320.2 671.0 h-4 M68.5 749.2 h4 M320.2 749.2 h-4 M367.2 768.1 v-4 M367.2 516.2 v4 M445.0 768.1 v-4 M445.0 516.2 v4 M522.7 768.1 v-4 M522.7 516.2 v4 M320.2 593.7 h4 M571.8 593.7 h-4 M320.2 671.0 h4 M571.8 671.0 h-4 M320.2 749.2 h4 M571.8 749.2 h-4 M591.0 768.1 v-4 M591.0 516.2 v4 M668.7 768.1 v-4 M668.7 516.2 v4 M746.4 768.1 v-4 M746.4 516.2 v4 M571.8 579.1 h4 M823.6 579.1 h-4 M571.8 642.1 h4 M823.6 642.1 h-4 M571.8 705.1 h4 M823.6 705.1 h-4" stroke="#000" stroke-width="0.6" fill="none"/>
<rect x="68.5" y="12.5" width="251.7" height="251.8" fill="none" stroke="#000" stroke-width="1"/>
<rect x="68.5" y="264.3" width="251.7" height="251.9" fill="none" stroke="#000" stroke-width="1"/>
<rect x="320.2" y="264.3" width="251.6" height="251.9" fill="none" stroke="#000" stroke-width="1"/>
<rect x="68.5" y="516.2" width="251.7" height="251.9" fill="none" stroke="#000" stroke-width="1"/>
<rect x="320.2" y="516.2" width="251.6" height="251.9" fill="none" stroke="#000" stroke-width="1"/>
<rect x="571.8" y="516.2" width="251.8" height="251.9" fill="none" stroke="#000" stroke-width="1"/>
<g opacity="0.999">
<text x="119.6" y="782.4" textLength="35.8" lengthAdjust="spacingAndGlyphs" font-family="Liberation Sans, sans-serif" font-size="12.4" fill="#000">0.105</text>
<text x="207.4" y="782.4" textLength="35.8" lengthAdjust="spacingAndGlyphs" font-family="Liberation Sans, sans-serif" font-size="12.4" fill="#000">0.120</text>
<text x="295.3" y="782.4" textLength="35.8" lengthAdjust="spacingAndGlyphs" font-family="Liberation Sans, sans-serif" font-size="12.4" fill="#000">0.135</text>
<text x="354.2" y="782.4" textLength="27.8" lengthAdjust="spacingAndGlyphs" font-family="Liberation Sans, sans-serif" font-size="12.4" fill="#000">0.96</text>
<text x="432.0" y="782.4" textLength="27.8" lengthAdjust="spacingAndGlyphs" font-family="Liberation Sans, sans-serif" font-size="12.4" fill="#000">1.02</text>
<text x="509.7" y="782.4" textLength="27.8" lengthAdjust="spacingAndGlyphs" font-family="Liberation Sans, sans-serif" font-size="12.4" fill="#000">1.08</text>
<text x="573.5" y="782.4" textLength="38.1" lengthAdjust="spacingAndGlyphs" font-family="Liberation Sans, sans-serif" font-size="12.4" fill="#000">−0.05</text>
<text x="656.3" y="782.4" textLength="27.8" lengthAdjust="spacingAndGlyphs" font-family="Liberation Sans, sans-serif" font-size="12.4" fill="#000">0.00</text>
<text x="734.0" y="782.4" textLength="27.8" lengthAdjust="spacingAndGlyphs" font-family="Liberation Sans, sans-serif" font-size="12.4" fill="#000">0.05</text>
<text x="39.8" y="317.1" textLength="27.8" lengthAdjust="spacingAndGlyphs" font-family="Liberation Sans, sans-serif" font-size="12.4" fill="#000">1.08</text>
<text x="39.8" y="394.4" textLength="27.8" lengthAdjust="spacingAndGlyphs" font-family="Liberation Sans, sans-serif" font-size="12.4" fill="#000">1.02</text>
<text x="39.8" y="473.1" textLength="27.8" lengthAdjust="spacingAndGlyphs" font-family="Liberation Sans, sans-serif" font-size="12.4" fill="#000">0.96</text>
<text x="39.8" y="597.1" textLength="27.8" lengthAdjust="spacingAndGlyphs" font-family="Liberation Sans, sans-serif" font-size="12.4" fill="#000">0.05</text>
<text x="39.8" y="674.4" textLength="27.8" lengthAdjust="spacingAndGlyphs" font-family="Liberation Sans, sans-serif" font-size="12.4" fill="#000">0.00</text>
<text x="29.5" y="752.6" textLength="38.1" lengthAdjust="spacingAndGlyphs" font-family="Liberation Sans, sans-serif" font-size="12.4" fill="#000">−0.05</text>
<g transform="translate(172.6 805.7)" font-family="Liberation Serif, serif" fill="#000">
<text x="0" y="0" font-size="19.5" textLength="13.4" lengthAdjust="spacingAndGlyphs">Ω</text>
<text x="13.0" y="4.4" font-size="13" font-style="italic">c</text>
<text x="20.6" y="0" font-size="20" font-style="italic">h</text>
<text x="31.2" y="-9.3" font-size="11.5">2</text>
</g>
<g transform="translate(54.3 160.8) rotate(-90)" font-family="Liberation Serif, serif" fill="#000">
<text x="0" y="0" font-size="19.5" textLength="13.4" lengthAdjust="spacingAndGlyphs">Ω</text>
<text x="13.0" y="4.4" font-size="13" font-style="italic">c</text>
<text x="20.6" y="0" font-size="20" font-style="italic">h</text>
<text x="31.2" y="-9.3" font-size="11.5">2</text>
</g>
<g transform="translate(445.1 803.1)" font-family="Liberation Serif, serif" fill="#000"><text x="0" y="0" font-size="21" font-style="italic" text-anchor="middle">α</text></g>
<g transform="translate(30.7 390.8) rotate(-90)" font-family="Liberation Serif, serif" fill="#000"><text x="0" y="0" font-size="21" font-style="italic" text-anchor="middle">α</text></g>
<g transform="translate(697.3 802.9)" font-family="Liberation Serif, serif" fill="#000"><text x="0" y="0" font-size="17" font-style="italic" text-anchor="middle">ϵ</text></g>
<g transform="translate(20.0 642.8) rotate(-90)" font-family="Liberation Serif, serif" fill="#000"><text x="0" y="0" font-size="17" font-style="italic" text-anchor="middle">ϵ</text></g>
<path d="M370.4 79.5 H393" stroke="#1E88E5" stroke-width="1.1" fill="none"/>
<g font-family="Liberation Serif, serif" fill="#000" font-size="14.2">
<text x="408.7" y="83.9" textLength="18.2" lengthAdjust="spacingAndGlyphs">0.2</text>
<path d="M441.0 76.3 L431.9 80.2 L441.0 84.0" stroke="#000" stroke-width="0.9" fill="none"/>
<text x="443.6" y="83.9" font-style="italic" font-size="15.5">z</text>
<path d="M463.6 76.3 L454.5 80.2 L463.6 84.0" stroke="#000" stroke-width="0.9" fill="none"/>
<text x="465.0" y="83.9" textLength="18.8" lengthAdjust="spacingAndGlyphs">0.6</text>
</g>
<path d="M370.4 101.9 H393" stroke="#D32F2F" stroke-width="1.1" fill="none"/>
<g font-family="Liberation Serif, serif" fill="#000" font-size="14.2">
<text x="408.7" y="106.3" textLength="18.2" lengthAdjust="spacingAndGlyphs">0.4</text>
<path d="M441.0 98.7 L431.9 102.6 L441.0 106.4" stroke="#000" stroke-width="0.9" fill="none"/>
<text x="443.6" y="106.3" font-style="italic" font-size="15.5">z</text>
<path d="M463.6 98.7 L454.5 102.6 L463.6 106.4" stroke="#000" stroke-width="0.9" fill="none"/>
<text x="465.0" y="106.3" textLength="18.8" lengthAdjust="spacingAndGlyphs">0.8</text>
</g>
<path d="M370.4 124.4 H393" stroke="#4CAF50" stroke-width="1.1" fill="none"/>
<g font-family="Liberation Serif, serif" fill="#000" font-size="14.2">
<text x="408.7" y="128.8" textLength="18.2" lengthAdjust="spacingAndGlyphs">0.6</text>
<path d="M441.0 121.2 L431.9 125.1 L441.0 128.9" stroke="#000" stroke-width="0.9" fill="none"/>
<text x="443.6" y="128.8" font-style="italic" font-size="15.5">z</text>
<path d="M463.6 121.2 L454.5 125.1 L463.6 128.9" stroke="#000" stroke-width="0.9" fill="none"/>
<text x="465.0" y="128.8" textLength="18.8" lengthAdjust="spacingAndGlyphs">1.0</text>
</g>
<path d="M370.5 147.0 H391.2" stroke="#1E88E5" stroke-width="1.1" stroke-dasharray="1.1 1.55" fill="none"/>
<g font-family="Liberation Serif, serif" fill="#000" font-size="14.2">
<text x="408.7" y="152.4" textLength="18.2" lengthAdjust="spacingAndGlyphs">0.2</text>
<path d="M441.0 144.8 L431.9 148.7 L441.0 152.5" stroke="#000" stroke-width="0.9" fill="none"/>
<text x="443.6" y="152.4" font-style="italic" font-size="15.5">z</text>
<path d="M463.6 144.8 L454.5 148.7 L463.6 152.5" stroke="#000" stroke-width="0.9" fill="none"/>
<text x="465.0" y="152.4" textLength="18.8" lengthAdjust="spacingAndGlyphs">0.6</text>
<text x="488.7" y="152.4" textLength="18.0" lengthAdjust="spacingAndGlyphs">No</text>
<text x="511.0" y="152.4" font-style="italic" font-size="15">ξ</text>
<text x="518.0" y="156.6" font-size="10">4</text>
</g>
<path d="M370.5 170.7 H391.2" stroke="#D32F2F" stroke-width="1.1" stroke-dasharray="1.1 1.55" fill="none"/>
<g font-family="Liberation Serif, serif" fill="#000" font-size="14.2">
<text x="408.7" y="175.7" textLength="18.2" lengthAdjust="spacingAndGlyphs">0.4</text>
<path d="M441.0 168.1 L431.9 172.0 L441.0 175.8" stroke="#000" stroke-width="0.9" fill="none"/>
<text x="443.6" y="175.7" font-style="italic" font-size="15.5">z</text>
<path d="M463.6 168.1 L454.5 172.0 L463.6 175.8" stroke="#000" stroke-width="0.9" fill="none"/>
<text x="465.0" y="175.7" textLength="18.8" lengthAdjust="spacingAndGlyphs">0.8</text>
<text x="488.7" y="175.7" textLength="18.0" lengthAdjust="spacingAndGlyphs">No</text>
<text x="511.0" y="175.7" font-style="italic" font-size="15">ξ</text>
<text x="518.0" y="179.9" font-size="10">4</text>
</g>
<path d="M370.5 194.4 H391.2" stroke="#4CAF50" stroke-width="1.1" stroke-dasharray="1.1 1.55" fill="none"/>
<g font-family="Liberation Serif, serif" fill="#000" font-size="14.2">
<text x="408.7" y="199.1" textLength="18.2" lengthAdjust="spacingAndGlyphs">0.6</text>
<path d="M441.0 191.5 L431.9 195.4 L441.0 199.2" stroke="#000" stroke-width="0.9" fill="none"/>
<text x="443.6" y="199.1" font-style="italic" font-size="15.5">z</text>
<path d="M463.6 191.5 L454.5 195.4 L463.6 199.2" stroke="#000" stroke-width="0.9" fill="none"/>
<text x="465.0" y="199.1" textLength="18.8" lengthAdjust="spacingAndGlyphs">1.0</text>
<text x="488.7" y="199.1" textLength="18.0" lengthAdjust="spacingAndGlyphs">No</text>
<text x="511.0" y="199.1" font-style="italic" font-size="15">ξ</text>
<text x="518.0" y="203.3" font-size="10">4</text>
</g>
</g>
</svg>
</body></html>
